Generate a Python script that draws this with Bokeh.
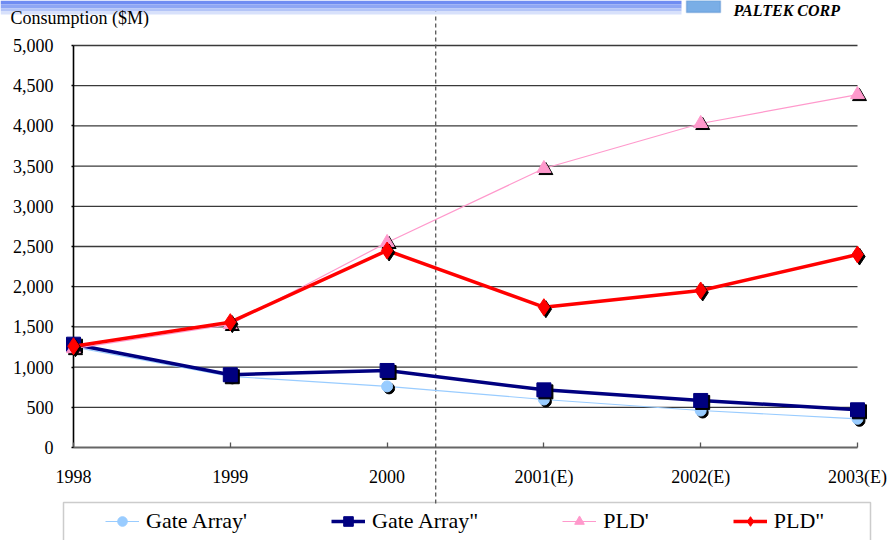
from bokeh.plotting import figure
from bokeh.models import (FixedTicker, NumeralTickFormatter, Legend, LegendItem, Label,
                          BoxAnnotation, ColumnDataSource, Range1d, LinearAxis)
from bokeh.transform import dodge
from bokeh.embed import file_html
from bokeh.resources import INLINE

# ---------------- data ----------------
years = ["1998", "1999", "2000", "2001(E)", "2002(E)", "2003(E)"]
gate_array_1 = [1250, 885, 760, 597, 460, 357]      # Gate Array'
gate_array_2 = [1285, 905, 958, 717, 585, 469]      # Gate Array"
pld_1 = [1230, 1530, 2550, 3470, 4030, 4390]        # PLD'
pld_2 = [1260, 1559, 2450, 1745, 1953, 2400]        # PLD"
y_ticks = [0, 500, 1000, 1500, 2000, 2500, 3000, 3500, 4000, 4500, 5000]
divider_x = 2.31   # boundary between actual and estimated years

x_idx = list(range(len(years)))

# ---------------- geometry helpers (reference pixels -> data) ----------------
X0_REF, X_PER = 73.0, 156.8
Y0_REF, Y_PER = 447.0, 402.0 / 5000.0


def dx(px):
    return (px - X0_REF) / X_PER


def dy(py):
    return (Y0_REF - py) / Y_PER


SX = 2.0 / X_PER
SY = 2.0 / Y_PER

FONT = "Liberation Serif"
W, H = 891, 540

p = figure(width=W, height=H, output_backend="svg", toolbar_location=None,
           title=None, x_axis_location=None, y_axis_location=None,
           x_range=Range1d(dx(0), dx(W)), y_range=Range1d(dy(H), dy(0)),
           min_border=0, min_border_left=0, min_border_right=0,
           min_border_top=0, min_border_bottom=0)
p.outline_line_color = None
p.background_fill_color = "white"
p.border_fill_color = "white"
p.grid.visible = False

# ---------------- header decoration ----------------
for top, bot, col in [(0, 4, "#6f8cf2"), (4, 8, "#8ea6f4"), (8, 11, "#b3c4f7"), (11, 14, "#d8e1fb")]:
    p.add_layout(BoxAnnotation(left=dx(0), right=dx(681), top=dy(top), bottom=dy(bot),
                               fill_color=col, fill_alpha=1, line_color=None))
p.add_layout(BoxAnnotation(left=dx(686), right=dx(720), top=dy(0), bottom=dy(12),
                           fill_color="#7aaee6", fill_alpha=1, line_color="#2f6fc0", line_width=1.5))
p.add_layout(Label(x=dx(733), y=dy(10), text="PALTEK CORP", text_font=FONT,
                   text_font_size="16px", text_font_style="bold italic",
                   text_color="black", text_baseline="alphabetic"))

p.add_layout(Label(x=dx(10), y=dy(17), text="Consumption ($M)", text_font=FONT,
                   text_font_size="18px", text_color="black", text_baseline="alphabetic"))

# ---------------- grid and axes lines ----------------
grid_y = y_ticks[1:]
p.segment(x0=[x_idx[0]] * len(grid_y), x1=[x_idx[-1]] * len(grid_y), y0=grid_y, y1=grid_y,
          line_color="#3a3a3a", line_width=1.3)
p.segment(x0=[x_idx[0]], x1=[x_idx[0]], y0=[y_ticks[0]], y1=[y_ticks[-1]],
          line_color="black", line_width=1.6)
p.segment(x0=[x_idx[0]], x1=[x_idx[-1]], y0=[y_ticks[0]], y1=[y_ticks[0]],
          line_color="#666666", line_width=2)

# dashed divider
p.segment(x0=[divider_x], x1=[divider_x], y0=[dy(503)], y1=[dy(8)],
          line_color="#555555", line_width=1.3, line_dash="4 3")

yaxis = LinearAxis(ticker=FixedTicker(ticks=y_ticks), formatter=NumeralTickFormatter(format="0,0"),
                   fixed_location=0, axis_line_color=None, major_tick_out=2, major_tick_in=0,
                   major_tick_line_color="black", major_tick_line_width=1.5,
                   minor_tick_line_color=None, major_label_standoff=18,
                   major_label_text_font=FONT, major_label_text_font_size="18px",
                   major_label_text_color="black")
p.add_layout(yaxis, "left")

xaxis = LinearAxis(ticker=FixedTicker(ticks=x_idx),
                   major_label_overrides={i: lab for i, lab in zip(x_idx, years)},
                   fixed_location=0, axis_line_color=None, major_tick_out=0, major_tick_in=5,
                   major_tick_line_color="#555555", major_tick_line_width=1.3,
                   minor_tick_line_color=None, major_label_standoff=19,
                   major_label_text_font=FONT, major_label_text_font_size="18px",
                   major_label_text_color="black")
p.add_layout(xaxis, "below")

# ---------------- series ----------------
series = [
    ("Gate Array'", gate_array_1, "#99ccff", 1.2, "circle", 11),
    ('Gate Array"', gate_array_2, "#000080", 3.5, "square", 14),
    ("PLD'", pld_1, "#ff99cc", 1.2, "triangle", 14),
    ('PLD"', pld_2, "#ff0000", 3.5, "diamond", 17),
]

items = []
for name, vals, col, lw, marker, size in series:
    src = ColumnDataSource(dict(x=x_idx, y=vals))
    ln = p.line("x", "y", source=src, line_color=col, line_width=lw)
    p.scatter(x=dodge("x", SX), y=dodge("y", -SY), source=src, marker=marker, size=size,
              fill_color="black", line_color="black")
    sc = p.scatter("x", "y", source=src, marker=marker, size=size,
                   fill_color=col, line_color=col)
    items.append(LegendItem(label=name, renderers=[ln, sc]))

# ---------------- legend ----------------
p.add_layout(BoxAnnotation(left=dx(63), right=dx(870), top=dy(502), bottom=dy(560),
                           fill_color=None, fill_alpha=0, line_color="#555555", line_width=1.5))

legend = Legend(items=items, orientation="horizontal", location=(105, 6),
                glyph_width=34, glyph_height=24, label_standoff=7, spacing=84,
                padding=0, margin=0, border_line_color=None, background_fill_alpha=0,
                label_text_font=FONT, label_text_font_size="22px", label_height=24,
                label_text_color="black")
p.add_layout(legend)

open("out.html", "w").write(file_html(p, INLINE))
